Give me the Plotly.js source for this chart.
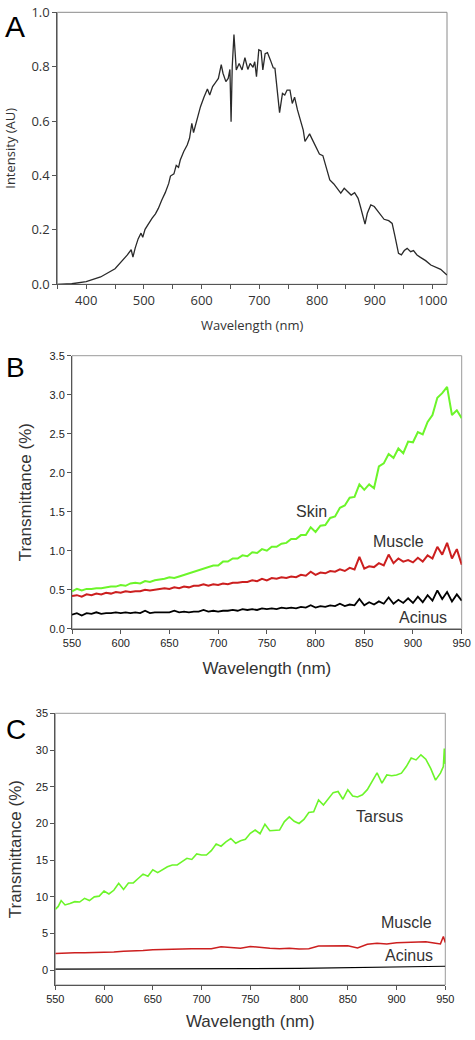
<!DOCTYPE html>
<html>
<head>
<meta charset="utf-8">
<script src="https://cdn.plot.ly/plotly-3.0.1.min.js"></script>
<style>
  html, body { margin: 0; padding: 0; background: #fff; }
  #chart { width: 475px; height: 1040px; }
</style>
</head>
<body>
<div id="chart"></div>
<script>
// ---------- Panel A: source spectrum ----------
const wlA = [350,375,400,425,450,462,471,478,481,485,490,495,498,502,508,514,520,525,531,537,543,546,552,556,560,563,569,575,579,583,586,593,598,604,610,614,619,623,629,634,637,642,646,649,651,653,656,660,665,670,675,680,684,689,692,695,699,703,706,710,714,719,724,727,731,735,740,744,748,753,757,761,766,772,776,779,783,787,792,798,804,810,814,818,822,829,835,841,847,853,859,865,871,875,879,883,887,893,899,904,910,916,924,930,935,941,946,951,956,962,967,973,979,988,997,1005,1014,1022,1025];
const intensityA = [0.0,0.002,0.01,0.027,0.057,0.085,0.107,0.127,0.100,0.134,0.167,0.188,0.173,0.202,0.223,0.242,0.259,0.279,0.31,0.337,0.371,0.398,0.406,0.437,0.430,0.457,0.488,0.512,0.537,0.592,0.558,0.616,0.653,0.688,0.718,0.696,0.727,0.739,0.757,0.808,0.776,0.745,0.757,0.79,0.598,0.80,0.918,0.788,0.812,0.788,0.833,0.79,0.812,0.798,0.818,0.763,0.862,0.858,0.788,0.848,0.852,0.825,0.796,0.794,0.714,0.631,0.702,0.696,0.714,0.714,0.665,0.688,0.641,0.598,0.567,0.525,0.537,0.553,0.531,0.504,0.479,0.473,0.445,0.42,0.384,0.369,0.353,0.335,0.353,0.341,0.328,0.337,0.316,0.286,0.249,0.221,0.261,0.292,0.286,0.273,0.255,0.239,0.234,0.224,0.175,0.114,0.108,0.124,0.132,0.12,0.124,0.108,0.099,0.087,0.071,0.063,0.055,0.04,0.034];

// ---------- Panel B: transmittance of skin / muscle / acinus ----------
const wlB = [550,555,560,565,570,575,580,585,590,595,600,605,610,615,620,625,630,635,640,645,650,655,660,665,670,675,680,685,690,695,700,705,710,715,720,725,730,735,740,745,750,755,760,765,770,775,780,785,790,795,800,805,810,815,820,825,830,835,840,845,850,855,860,865,870,875,880,885,890,895,900,905,910,915,920,925,930,935,940,945,950];
const skinB = [0.48,0.51,0.49,0.51,0.51,0.52,0.52,0.53,0.54,0.54,0.56,0.55,0.58,0.59,0.58,0.61,0.60,0.62,0.63,0.64,0.66,0.65,0.67,0.69,0.71,0.73,0.76,0.78,0.79,0.81,0.81,0.86,0.86,0.90,0.90,0.94,0.93,0.98,0.97,1.02,1.00,1.05,1.05,1.09,1.10,1.15,1.15,1.20,1.20,1.30,1.24,1.32,1.33,1.42,1.44,1.55,1.58,1.68,1.69,1.85,1.78,1.85,1.80,2.08,2.12,2.24,2.19,2.31,2.25,2.40,2.39,2.52,2.49,2.65,2.74,2.96,3.02,3.10,2.74,2.80,2.70];
const muscleB = [0.42,0.43,0.41,0.44,0.43,0.45,0.44,0.46,0.45,0.47,0.46,0.48,0.47,0.48,0.48,0.50,0.49,0.50,0.51,0.52,0.51,0.53,0.52,0.54,0.53,0.55,0.55,0.57,0.55,0.57,0.56,0.58,0.57,0.59,0.59,0.60,0.60,0.62,0.61,0.64,0.62,0.65,0.64,0.66,0.65,0.67,0.66,0.69,0.68,0.73,0.69,0.72,0.71,0.74,0.73,0.76,0.74,0.78,0.76,0.92,0.77,0.80,0.79,0.84,0.81,0.95,0.84,0.90,0.86,0.88,0.85,0.91,0.86,0.94,0.90,1.05,0.95,1.10,0.90,1.02,0.82];
const acinusB = [0.18,0.20,0.17,0.20,0.19,0.21,0.19,0.20,0.20,0.21,0.20,0.21,0.20,0.21,0.20,0.23,0.20,0.21,0.21,0.21,0.21,0.23,0.21,0.22,0.21,0.22,0.22,0.24,0.22,0.23,0.22,0.23,0.23,0.24,0.23,0.25,0.24,0.25,0.24,0.26,0.25,0.26,0.25,0.27,0.26,0.27,0.26,0.28,0.27,0.30,0.27,0.29,0.28,0.30,0.29,0.32,0.29,0.31,0.30,0.38,0.30,0.34,0.31,0.35,0.32,0.40,0.32,0.37,0.33,0.39,0.33,0.41,0.34,0.43,0.36,0.49,0.38,0.47,0.35,0.44,0.36];

// ---------- Panel C: transmittance of tarsus / muscle / acinus ----------
const wlTarsus = [550,553,556,560,565,570,575,580,585,590,595,600,605,610,615,620,625,630,635,640,645,650,655,660,665,670,675,680,685,690,695,700,705,710,715,720,725,730,735,740,745,750,755,760,765,770,775,780,785,790,795,800,805,810,815,820,825,830,835,840,845,850,855,860,865,870,875,880,885,890,895,900,905,910,915,920,925,930,935,940,945,948,949,950];
const tarsusC = [8.3,8.7,9.5,8.9,9.1,9.35,9.3,9.8,9.5,10.0,10.1,10.8,10.4,10.9,11.85,11.0,11.9,11.9,12.5,13.1,12.8,13.7,13.3,13.7,14.1,14.35,14.35,14.8,15.25,15.1,15.85,15.7,15.7,16.3,17.2,16.9,17.5,17.95,17.3,17.65,17.85,18.65,19.1,18.6,19.9,19.0,19.0,19.1,20.25,20.9,20.3,20.0,20.55,21.5,21.6,23.2,22.5,23.3,24.2,24.35,23.3,24.6,23.75,23.6,23.9,24.6,25.85,26.9,25.5,26.6,26.5,26.6,26.85,27.75,28.9,28.65,29.35,28.75,27.5,25.9,26.85,27.75,30.2,28.1];
const wlMuscleC = [550,560,570,580,590,600,610,620,630,640,650,660,670,680,690,700,710,720,730,740,750,760,770,780,790,800,810,820,830,840,850,860,870,880,890,900,910,920,930,940,945,948,950];
const muscleC = [2.3,2.4,2.4,2.4,2.4,2.45,2.5,2.6,2.6,2.7,2.8,2.8,2.85,2.9,2.95,3.0,2.95,3.2,3.1,3.0,3.25,3.1,3.0,2.95,3.0,2.9,2.95,3.3,3.3,3.4,3.35,3.05,3.55,3.7,3.6,3.75,3.8,3.95,3.9,3.7,3.6,4.6,3.8];
const wlAcinusC = [550,600,650,700,750,800,820,850,880,900,920,940,950];
const acinusC = [0.15,0.15,0.18,0.2,0.22,0.26,0.3,0.36,0.38,0.4,0.45,0.5,0.55];

// labels
const panelLetters = ["A", "B", "C"];
const labelsB = ["Skin", "Muscle", "Acinus"];
const labelsC = ["Tarsus", "Muscle", "Acinus"];

const GREEN = "#6cf52a", RED = "#cc1f1f", BLACK = "#000000";

const traces = [
  {x: wlA, y: intensityA, xaxis: "x", yaxis: "y", mode: "lines", line: {color: "#2a2a2a", width: 1.3}},
  {x: wlB, y: skinB, xaxis: "x2", yaxis: "y2", mode: "lines", line: {color: GREEN, width: 2}},
  {x: wlB, y: muscleB, xaxis: "x2", yaxis: "y2", mode: "lines", line: {color: RED, width: 2}},
  {x: wlB, y: acinusB, xaxis: "x2", yaxis: "y2", mode: "lines", line: {color: BLACK, width: 1.8}},
  {x: wlTarsus, y: tarsusC, xaxis: "x3", yaxis: "y3", mode: "lines", line: {color: GREEN, width: 1.6}},
  {x: wlMuscleC, y: muscleC, xaxis: "x3", yaxis: "y3", mode: "lines", line: {color: RED, width: 1.5}},
  {x: wlAcinusC, y: acinusC, xaxis: "x3", yaxis: "y3", mode: "lines", line: {color: BLACK, width: 1.2}}
];

const W = 475, H = 1040;
const fx = px => px / W;
const fy = py => 1 - py / H;

const fontA = {family: "Open Sans, Noto Sans, sans-serif", size: 13, color: "#333"};
const fontBC = {family: "Liberation Sans, Arial, sans-serif", size: 11, color: "#222"};
const titleBC = {family: "Liberation Sans, Arial, sans-serif", size: 17, color: "#333"};

function baseAxis(extra) {
  return Object.assign({
    showgrid: false, zeroline: false, showline: true, mirror: false,
    linecolor: "#555", linewidth: 1, ticks: "outside", ticklen: 4,
    tickcolor: "#555", tickwidth: 1, fixedrange: true
  }, extra);
}

const layout = {
  width: W, height: H,
  margin: {l: 0, r: 0, t: 0, b: 0},
  paper_bgcolor: "#fff", plot_bgcolor: "#fff",
  showlegend: false,
  xaxis: baseAxis({
    domain: [fx(57.3), fx(447)], range: [350, 1025], anchor: "y",
    tickvals: [400, 500, 600, 700, 800, 900, 1000],
    minor: {tickvals: [350, 450, 550, 650, 750, 850, 950], ticks: "outside", ticklen: 4, tickcolor: "#555"},
    tickfont: fontA, ticklen: 4,
    title: {text: "Wavelength (nm)", font: fontA, standoff: 12}
  }),
  yaxis: baseAxis({
    domain: [fy(284.3), fy(12.3)], range: [0, 1], anchor: "x",
    tickvals: [0, 0.2, 0.4, 0.6, 0.8, 1.0], tickformat: ".1f",
    tickfont: fontA,
    title: {text: "Intensity (AU)", font: fontA, standoff: 12}
  }),
  xaxis2: baseAxis({
    domain: [fx(72), fx(461.7)], range: [550, 950], anchor: "y2",
    tickvals: [550, 600, 650, 700, 750, 800, 850, 900, 950],
    tickfont: fontBC,
    title: {text: "Wavelength (nm)", font: titleBC, standoff: 14}
  }),
  yaxis2: baseAxis({
    domain: [fy(628.7), fy(355.7)], range: [0, 3.5], anchor: "x2",
    tickvals: [0, 0.5, 1.0, 1.5, 2.0, 2.5, 3.0, 3.5], tickformat: ".1f",
    tickfont: fontBC,
    title: {text: "Transmittance (%)", font: titleBC, standoff: 13}
  }),
  xaxis3: baseAxis({
    domain: [fx(55.3), fx(445.3)], range: [550, 950], anchor: "y3",
    tickvals: [550, 600, 650, 700, 750, 800, 850, 900, 950],
    tickfont: fontBC,
    title: {text: "Wavelength (nm)", font: titleBC, standoff: 10}
  }),
  yaxis3: baseAxis({
    domain: [fy(985), fy(713.3)], range: [-2, 35], anchor: "x3",
    tickvals: [0, 5, 10, 15, 20, 25, 30, 35],
    tickfont: fontBC,
    title: {text: "Transmittance (%)", font: titleBC, standoff: 9}
  }),
  shapes: [
    {type: "rect", xref: "x domain", yref: "y domain", x0: 0, x1: 1, y0: 0, y1: 1, line: {color: "#8a8a8a", width: 1}, layer: "below"},
    {type: "rect", xref: "x2 domain", yref: "y2 domain", x0: 0, x1: 1, y0: 0, y1: 1, line: {color: "#9a9a9a", width: 1}, layer: "below"},
    {type: "rect", xref: "x3 domain", yref: "y3 domain", x0: 0, x1: 1, y0: 0, y1: 1, line: {color: "#9a9a9a", width: 1}, layer: "below"}
  ],
  annotations: [
    {text: panelLetters[0], xref: "paper", yref: "paper", x: fx(15), y: fy(26), xanchor: "center", yanchor: "middle", showarrow: false, font: {family: "Liberation Sans, Arial, sans-serif", size: 30, color: "#000"}},
    {text: panelLetters[1], xref: "paper", yref: "paper", x: fx(15.5), y: fy(367), xanchor: "center", yanchor: "middle", showarrow: false, font: {family: "Liberation Sans, Arial, sans-serif", size: 28, color: "#000"}},
    {text: panelLetters[2], xref: "paper", yref: "paper", x: fx(16), y: fy(729), xanchor: "center", yanchor: "middle", showarrow: false, font: {family: "Liberation Sans, Arial, sans-serif", size: 28, color: "#000"}},
    {text: labelsB[0], xref: "x2", yref: "y2", x: 796, y: 1.5, showarrow: false, font: {family: "Liberation Sans, Arial, sans-serif", size: 16, color: "#333"}},
    {text: labelsB[1], xref: "x2", yref: "y2", x: 885, y: 1.115, showarrow: false, font: {family: "Liberation Sans, Arial, sans-serif", size: 16, color: "#333"}},
    {text: labelsB[2], xref: "x2", yref: "y2", x: 910, y: 0.15, showarrow: false, font: {family: "Liberation Sans, Arial, sans-serif", size: 16, color: "#333"}},
    {text: labelsC[0], xref: "x3", yref: "y3", x: 883, y: 21.0, showarrow: false, font: {family: "Liberation Sans, Arial, sans-serif", size: 16, color: "#333"}},
    {text: labelsC[1], xref: "x3", yref: "y3", x: 910, y: 6.5, showarrow: false, font: {family: "Liberation Sans, Arial, sans-serif", size: 16, color: "#333"}},
    {text: labelsC[2], xref: "x3", yref: "y3", x: 913, y: 1.95, showarrow: false, font: {family: "Liberation Sans, Arial, sans-serif", size: 16, color: "#333"}}
  ]
};

Plotly.newPlot("chart", traces, layout, {staticPlot: true, displayModeBar: false});
</script>
</body>
</html>
